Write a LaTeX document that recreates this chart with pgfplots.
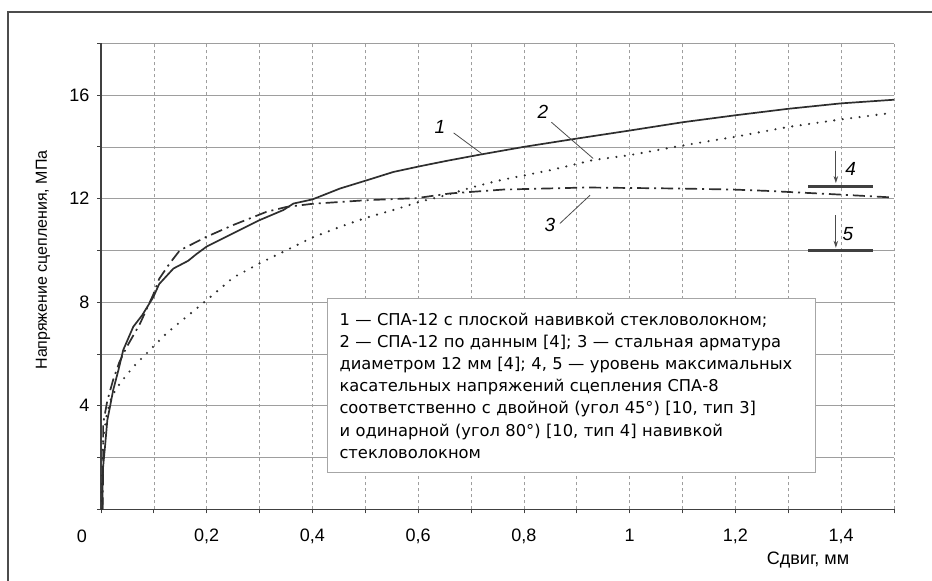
\documentclass[border=0pt]{standalone}
\usepackage{fontspec}
\setmainfont{Liberation Sans}
\newfontfamily\legfont{DejaVu Sans}
\usepackage{pgfplots}
\pgfplotsset{compat=1.18}
\usetikzlibrary{arrows.meta}
\definecolor{gridc}{gray}{0.62}
\definecolor{curve}{gray}{0.18}
\begin{document}
\begin{tikzpicture}
\useasboundingbox (0,0) rectangle (932pt,581pt);
\fill[white] (0,0) rectangle (932pt,581pt);
\draw[line width=1.3pt, black!70] (8pt,0pt) -- (8pt,569pt) -- (932pt,569pt);
\begin{axis}[
  at={(101pt,71.7pt)}, anchor=south west,
  scale only axis, width=793pt, height=466pt,
  xmin=0, xmax=1.5, ymin=0, ymax=18,
  clip=false,
  axis x line*=bottom, axis y line*=left,
  axis line style={-, line width=1.1pt, black!75},
  xtick={0,0.2,0.4,0.6,0.8,1.0,1.2,1.4},
  xticklabels={{},{0,2},{0,4},{0,6},{0,8},{1},{1,2},{1,4}},
  minor xtick={0.1,0.3,0.5,0.7,0.9,1.1,1.3,1.5},
  ytick={0,4,8,12,16}, yticklabels={{},4,8,12,16},
  minor ytick={2,6,10,14,18},
  xmajorgrids, xminorgrids, ymajorgrids, yminorgrids,
  grid style={gridc, line width=0.7pt},
  x grid style={dashed},
  tick align=outside, major tick length=4pt, minor tick length=4pt,
  tick style={black!75, line width=0.8pt},
  ticklabel style={font=\fontsize{18}{20}\selectfont},
  xticklabel style={yshift=-12pt},
  yticklabel style={xshift=-4pt},
  xlabel={Сдвиг, мм},
  ylabel={Напряжение сцепления, МПа},
  xlabel style={font=\fontsize{18}{20}\selectfont, at={(axis description cs:0.8916,-0.109)}, anchor=center},
  ylabel style={font=\fontsize{16}{18}\selectfont, at={(axis description cs:-0.073,0.535)}, anchor=center},
]
% curve 1: SPA-12 flat winding (solid)
\addplot[curve, line width=1.7pt] coordinates {
(0.003,0) (0.003,1.0) (0.004,1.64) (0.0076,2.42) (0.012,3.45) (0.017,3.96)
(0.023,4.6) (0.033,5.38) (0.042,6.15) (0.061,7.05) (0.078,7.5) (0.099,8.2)
(0.11,8.7) (0.137,9.3) (0.165,9.6) (0.18,9.85) (0.2,10.15) (0.25,10.66)
(0.30,11.17) (0.345,11.56) (0.364,11.81) (0.40,11.97) (0.452,12.39)
(0.503,12.71) (0.553,13.03) (0.603,13.25) (0.654,13.46) (0.717,13.7)
(0.8,14.0) (0.9,14.32) (1.0,14.63) (1.1,14.95) (1.2,15.22) (1.3,15.47)
(1.4,15.68) (1.5,15.82)};
% curve 2: SPA-12 data [4] (dotted)
\addplot[curve, line width=2.4pt, line cap=round, dash pattern=on 0pt off 8.5pt] coordinates {
(0.001,0) (0.002,1.13) (0.004,2.68) (0.011,3.7) (0.02,4.35) (0.036,4.87)
(0.061,5.5) (0.089,6.08) (0.124,6.8) (0.162,7.44) (0.2,8.08) (0.25,8.95)
(0.30,9.5) (0.351,10.01) (0.40,10.5) (0.452,10.91) (0.503,11.27)
(0.553,11.56) (0.603,11.88) (0.654,12.14) (0.704,12.45) (0.755,12.71)
(0.85,13.1) (0.931,13.49) (1.0,13.68) (1.1,14.05) (1.2,14.39) (1.3,14.77)
(1.4,15.06) (1.496,15.31)};
% curve 3: steel rebar (dash-dot)
\addplot[curve, line width=1.7pt, dash pattern=on 12pt off 5pt on 2pt off 5pt] coordinates {
(0.003,0) (0.004,1.5) (0.004,3.3) (0.012,4.2) (0.023,5.0) (0.035,5.7)
(0.049,6.28) (0.074,7.18) (0.099,8.3) (0.11,8.9) (0.13,9.5) (0.149,10.0)
(0.2,10.53) (0.25,10.98) (0.313,11.49) (0.351,11.68) (0.40,11.8)
(0.503,11.94) (0.597,12.02) (0.66,12.2) (0.761,12.35) (0.919,12.43)
(1.095,12.39) (1.196,12.35) (1.259,12.3) (1.385,12.17) (1.493,12.05)};
% levels 4 and 5
\addplot[black!75, line width=3pt] coordinates {(1.338,12.48) (1.461,12.48)};
\addplot[black!75, line width=3pt] coordinates {(1.338,9.98) (1.461,9.98)};
\addplot[black!70, line width=0.9pt, -{Stealth[length=7pt,width=4.5pt]}] coordinates {(1.39,13.85) (1.39,12.6)};
\addplot[black!70, line width=0.9pt, -{Stealth[length=7pt,width=4.5pt]}] coordinates {(1.39,11.36) (1.39,10.1)};
% leader lines
\addplot[gray!60!black, line width=0.8pt] coordinates {(0.667,14.54) (0.72,13.74)};
\addplot[gray!60!black, line width=0.8pt] coordinates {(0.852,14.95) (0.931,13.55)};
\addplot[gray!60!black, line width=0.8pt] coordinates {(0.868,11.04) (0.925,12.13)};
\node[font=\fontsize{19}{20}\selectfont\itshape] at (axis cs:0.641,14.77) {1};
\node[font=\fontsize{19}{20}\selectfont\itshape] at (axis cs:0.836,15.35) {2};
\node[font=\fontsize{19}{20}\selectfont\itshape] at (axis cs:0.849,10.98) {3};
\node[font=\fontsize{19}{20}\selectfont\itshape] at (axis cs:1.418,13.15) {4};
\node[font=\fontsize{19}{20}\selectfont\itshape] at (axis cs:1.413,10.62) {5};
\node[font=\fontsize{18}{20}\selectfont] at (axis description cs:-0.024,-0.057) {0};
% legend box
\node[anchor=north west, draw=gray!70, line width=1pt, fill=white,
      text width=464pt, inner xsep=12pt, inner ysep=14pt, align=left,
      font=\legfont\fontsize{16.3}{22.2}\selectfont]
  at (axis description cs:0.285,0.4528) {%
1 — СПА-12 с плоской навивкой стекловолокном;\\
2 — СПА-12 по данным [4]; 3 — стальная арматура\\
диаметром 12 мм [4]; 4, 5 — уровень максимальных\\
касательных напряжений сцепления СПА-8\\
соответственно с двойной (угол 45°) [10, тип 3]\\
и одинарной (угол 80°) [10, тип 4] навивкой\\
стекловолокном};
\end{axis}
\end{tikzpicture}
\end{document}
